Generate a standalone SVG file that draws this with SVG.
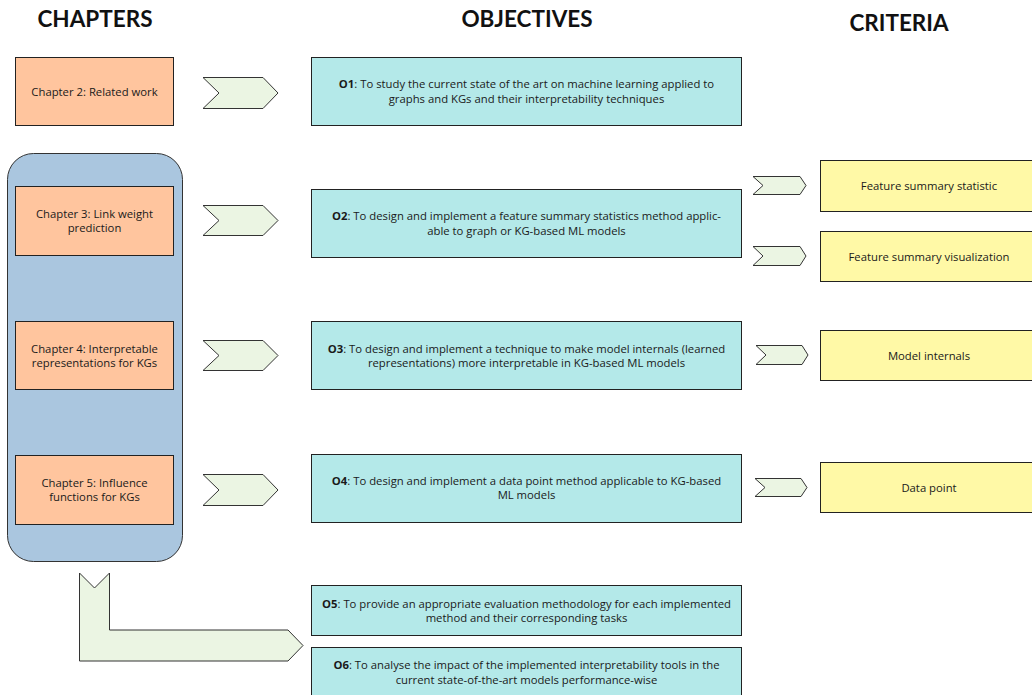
<svg xmlns="http://www.w3.org/2000/svg" width="1032" height="695" viewBox="0 0 1032 695">
  <style>
    .hdr { font-family: Lato, "Open Sans", sans-serif; font-weight: bold; font-size: 22.5px; fill: #111; text-anchor: middle; }
    .txt { font-family: "Open Sans", "Noto Sans", sans-serif; font-size: 11.3px; fill: #1a1a1a; text-anchor: middle; }
    .chap { fill: #FFC59E; stroke: #222; stroke-width: 1; }
    .obj { fill: #B4E9E9; stroke: #222; stroke-width: 1; }
    .crit { fill: #FFF9A6; stroke: #222; stroke-width: 1; }
    .arrow { fill: #EBF5E3; stroke: #333; stroke-width: 1; stroke-linejoin: miter; }
    .group { fill: #AAC6DF; stroke: #333; stroke-width: 1; }
  </style>

  <!-- column headings -->
  <text class="hdr" x="95" y="27">CHAPTERS</text>
  <text class="hdr" x="527" y="27">OBJECTIVES</text>
  <text class="hdr" x="899" y="31">CRITERIA</text>

  <!-- container for chapters 3-5 -->
  <g id="chapters-3-5">
    <rect class="group" x="7.5" y="153.5" width="175" height="408" rx="26" ry="26"/>
  </g>

  <!-- chapters -->
  <g id="chapter2">
    <rect class="chap" x="15.5" y="57.5" width="158" height="68"/>
    <text class="txt" x="94.5" y="95.5">Chapter 2: Related work</text>
  </g>
  <g id="chapter3">
    <rect class="chap" x="15.5" y="186.5" width="158" height="69"/>
    <text class="txt" x="94.5" y="218">Chapter 3: Link weight</text>
    <text class="txt" x="94.5" y="232">prediction</text>
  </g>
  <g id="chapter4">
    <rect class="chap" x="15.5" y="321.5" width="158" height="68"/>
    <text class="txt" x="94.5" y="353">Chapter 4: Interpretable</text>
    <text class="txt" x="94.5" y="367">representations for KGs</text>
  </g>
  <g id="chapter5">
    <rect class="chap" x="15.5" y="455.5" width="158" height="69"/>
    <text class="txt" x="94.5" y="487">Chapter 5: Influence</text>
    <text class="txt" x="94.5" y="501">functions for KGs</text>
  </g>

  <!-- objectives -->
  <g id="o1">
    <rect class="obj" x="311.5" y="57.5" width="430" height="68"/>
    <text class="txt" x="526.5" y="88"><tspan font-weight="bold">O1</tspan>: To study the current state of the art on machine learning applied to</text>
    <text class="txt" x="526.5" y="103">graphs and KGs and their interpretability techniques</text>
  </g>
  <g id="o2">
    <rect class="obj" x="311.5" y="189.5" width="430" height="68"/>
    <text class="txt" x="526.5" y="220"><tspan font-weight="bold">O2</tspan>: To design and implement a feature summary statistics method applic-</text>
    <text class="txt" x="526.5" y="235">able to graph or KG-based ML models</text>
  </g>
  <g id="o3">
    <rect class="obj" x="311.5" y="321.5" width="430" height="68"/>
    <text class="txt" x="526.5" y="353"><tspan font-weight="bold">O3</tspan>: To design and implement a technique to make model internals (learned</text>
    <text class="txt" x="526.5" y="367">representations) more interpretable in KG-based ML models</text>
  </g>
  <g id="o4">
    <rect class="obj" x="311.5" y="454.5" width="430" height="68"/>
    <text class="txt" x="526.5" y="485"><tspan font-weight="bold">O4</tspan>: To design and implement a data point method applicable to KG-based</text>
    <text class="txt" x="526.5" y="499">ML models</text>
  </g>
  <g id="o5">
    <rect class="obj" x="311.5" y="585.5" width="430" height="50"/>
    <text class="txt" x="526.5" y="608"><tspan font-weight="bold">O5</tspan>: To provide an appropriate evaluation methodology for each implemented</text>
    <text class="txt" x="526.5" y="622">method and their corresponding tasks</text>
  </g>
  <g id="o6">
    <rect class="obj" x="311.5" y="647.5" width="430" height="60"/>
    <text class="txt" x="526.5" y="669"><tspan font-weight="bold">O6</tspan>: To analyse the impact of the implemented interpretability tools in the</text>
    <text class="txt" x="526.5" y="684">current state-of-the-art models performance-wise</text>
  </g>

  <!-- criteria -->
  <g id="c-stat">
    <rect class="crit" x="820.5" y="160.5" width="220" height="51"/>
    <text class="txt" x="929" y="190">Feature summary statistic</text>
  </g>
  <g id="c-vis">
    <rect class="crit" x="820.5" y="231.5" width="220" height="50"/>
    <text class="txt" x="929" y="261">Feature summary visualization</text>
  </g>
  <g id="c-internals">
    <rect class="crit" x="820.5" y="330.5" width="220" height="50"/>
    <text class="txt" x="929" y="360">Model internals</text>
  </g>
  <g id="c-datapoint">
    <rect class="crit" x="820.5" y="462.5" width="220" height="50"/>
    <text class="txt" x="929" y="492">Data point</text>
  </g>

  <!-- connectors -->
  <g id="connectors">
    <polygon class="arrow" points="203,77.5 263,77.5 278,93 263,108.5 203,108.5 219,93"/>
    <polygon class="arrow" points="203,205.5 263,205.5 278,220.5 263,235.5 203,235.5 219,220.5"/>
    <polygon class="arrow" points="203,340.5 263,340.5 278,355.5 263,370.5 203,370.5 219,355.5"/>
    <polygon class="arrow" points="203,474.5 263,474.5 278,490 263,505.5 203,505.5 219,490"/>

    <polygon class="arrow" points="753,176.5 800,176.5 806,185.5 800,194.5 753,194.5 763,185.5"/>
    <polygon class="arrow" points="753,246.5 800,246.5 806,256 800,265.5 753,265.5 763,256"/>
    <polygon class="arrow" points="756,345.5 802,345.5 808,355 802,364.5 756,364.5 766,355"/>
    <polygon class="arrow" points="755,478.5 801,478.5 807,487.5 801,496.5 755,496.5 765,487.5"/>

    <polygon class="arrow" points="79.5,573 94.5,588 109.5,573 109.5,630 288,630 303,645.5 288,661 79.5,661"/>
  </g>
</svg>
